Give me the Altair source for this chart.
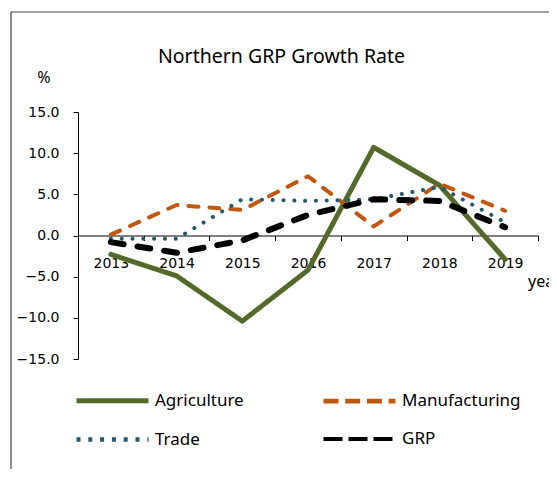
import altair as alt
import pandas as pd

years = ["2013", "2014", "2015", "2016", "2017", "2018", "2019"]
agriculture = [-2.3, -4.9, -10.4, -4.2, 10.7, 6.1, -2.9]
manufacturing = [0.1, 3.7, 3.1, 7.2, 1.1, 6.3, 3.0]
trade = [-0.4, -0.4, 4.4, 4.2, 4.4, 5.9, 1.6]
grp = [-0.8, -2.1, -0.6, 2.5, 4.4, 4.2, 1.0]

series_names = ["Agriculture", "Manufacturing", "Trade", "GRP"]
series_values = [agriculture, manufacturing, trade, grp]
colors = ["#536a2b", "#c0580f", "#215b6b", "#000000"]
line_dashes = [[1, 0], [10, 11], [0.1, 10.7], [13, 14]]
legend_dashes = [[1, 0], [15, 6.7], [4, 7.8], [19, 6]]
widths = [5, 4, 4, 6]

rows = []
for name, vals in zip(series_names, series_values):
    for y, v in zip(years, vals):
        rows.append({"year": y, "value": v, "series": name})
df = pd.DataFrame(rows)

W, H = 460, 247

x_enc = alt.X("year:N", bandPosition=0.5,
              scale=alt.Scale(type="band", paddingInner=0, paddingOuter=0),
              axis=alt.Axis(title=None, orient="bottom", offset=-123.5, tickBand="extent",
                            labelAngle=0, tickSize=5, labelPadding=16, domainColor="#000",
                            tickColor="#000", labelFont="DejaVu Sans", labelFontSize=14,
                            labelColor="#000"))
y_enc = alt.Y("value:Q", scale=alt.Scale(domain=[-15, 15], nice=False, zero=False),
              axis=alt.Axis(title=None, values=[-15, -10, -5, 0, 5, 10, 15], format=".1f",
                            grid=False, tickSize=5, labelPadding=14, domainColor="#000",
                            tickColor="#000", labelFont="DejaVu Sans", labelFontSize=14,
                            labelColor="#000"))

# legend-only layer (invisible lines, visible legend symbols)
legend_layer = alt.Chart(df).mark_line(opacity=0).encode(
    x=x_enc, y=y_enc,
    color=alt.Color("series:N", sort=series_names,
                    scale=alt.Scale(domain=series_names, range=colors),
                    legend=alt.Legend(title=None, orient="none", legendX=14, legendY=268,
                                      direction="horizontal", columns=2, columnPadding=70,
                                      rowPadding=8, padding=0, gridAlign="each",
                                      symbolType="M-2,0H2", symbolSize=1296,
                                      symbolOpacity=1,
                                      labelFont="Noto Sans", labelFontSize=17,
                                      labelColor="#000", labelOffset=22)),
    strokeDash=alt.StrokeDash("series:N", sort=series_names,
                              scale=alt.Scale(domain=series_names, range=legend_dashes)),
    strokeWidth=alt.StrokeWidth("series:O", sort=series_names,
                                scale=alt.Scale(domain=series_names, range=widths)),
)

line_layers = []
for name, c, d, w in zip(series_names, colors, line_dashes, widths):
    line_layers.append(
        alt.Chart(df).transform_filter(alt.datum.series == name).mark_line(
            color=c, strokeDash=d, strokeWidth=w, strokeCap="round", strokeJoin="round"
        ).encode(x=x_enc, y=y_enc)
    )

frame_df = pd.DataFrame({"k": [0]})
frame_left = alt.Chart(frame_df).mark_rule(color="#444", strokeWidth=1.2, clip=False).encode(
    x=alt.value(-67), y=alt.value(-100), y2=alt.value(H + 140))
frame_top = alt.Chart(frame_df).mark_rule(color="#444", strokeWidth=1.2, clip=False).encode(
    x=alt.value(-67), x2=alt.value(W + 40), y=alt.value(-100))

title_mark = alt.Chart(frame_df).mark_text(text="Northern GRP Growth Rate", font="Noto Sans",
                                           fontSize=19.5, color="#000",
                                           baseline="alphabetic").encode(
    x=alt.value(203.5), y=alt.value(-49.3))
pct = alt.Chart(frame_df).mark_text(text="%", font="Noto Sans", fontSize=16, color="#000",
                                    baseline="alphabetic").encode(
    x=alt.value(-34), y=alt.value(-29))
yearlab = alt.Chart(frame_df).mark_text(text="year", font="Noto Sans", fontSize=16,
                                        color="#000", align="left",
                                        baseline="alphabetic").encode(
    x=alt.value(450), y=alt.value(174.7))

chart = alt.layer(frame_left, frame_top, legend_layer, *line_layers, title_mark, pct, yearlab).properties(
    width=W, height=H,
    autosize=alt.AutoSizeParams(type="none"),
    padding={"left": 70, "top": 104, "right": 11, "bottom": 110},
).configure_view(stroke=None).configure_axis(domainWidth=1, tickWidth=1)

chart.save("out.html", embed_options={"renderer": "svg", "actions": False})
